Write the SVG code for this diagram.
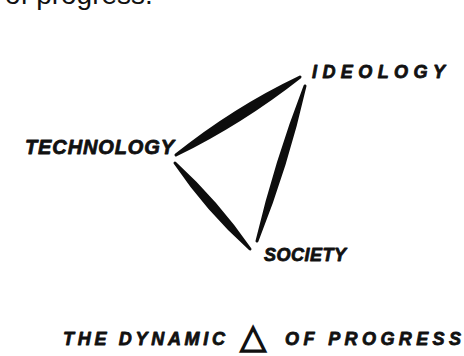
<svg xmlns="http://www.w3.org/2000/svg" width="464" height="356" viewBox="0 0 464 356">
  <style>
    .hand { font-family: "Liberation Sans", "DejaVu Sans", sans-serif; font-weight: bold; font-style: italic; fill: #111; stroke: #111; stroke-width: 0.8; stroke-linejoin: round; }
    .body { font-family: "Liberation Sans", Arial, sans-serif; fill: #111; }
    .edge { fill: #0d0d0d; stroke: #0d0d0d; stroke-width: 3; stroke-linejoin: round; }
  </style>
  <rect width="464" height="356" fill="#ffffff"/>

  <!-- running text from the page above, clipped at the top edge -->
  <text class="body" x="5" y="4" font-size="28">of progress.</text>

  <!-- brush-stroke edges of the triangle -->
  <g id="connectors">
    <path class="edge" d="M176,155 Q242.3,122.4 300,77 Q233.7,108.6 176,155Z"/>
    <path class="edge" d="M175,163 Q207.5,211 250,249 Q217.5,202 175,163Z"/>
    <path class="edge" d="M305,86 Q287.2,165.2 257,241 Q275.8,161.8 305,86Z"/>
  </g>

  <g id="ideology">
    <text class="hand" x="312" y="78" font-size="18" textLength="133" lengthAdjust="spacing">IDEOLOGY</text>
  </g>
  <g id="technology">
    <text class="hand" x="25" y="154" font-size="20" textLength="149" lengthAdjust="spacing">TECHNOLOGY</text>
  </g>
  <g id="society">
    <text class="hand" x="264" y="261" font-size="18" textLength="82" lengthAdjust="spacing">SOCIETY</text>
  </g>

  <!-- caption -->
  <g id="caption">
    <text class="hand" x="63" y="345" font-size="18" textLength="162" lengthAdjust="spacing">THE DYNAMIC</text>
    <text x="240" y="348" font-family="DejaVu Sans, sans-serif" font-size="34" fill="#111" stroke="#111" stroke-width="1.5">△</text>
    <text class="hand" x="285" y="345" font-size="18" textLength="176" lengthAdjust="spacing">OF PROGRESS</text>
  </g>
</svg>
